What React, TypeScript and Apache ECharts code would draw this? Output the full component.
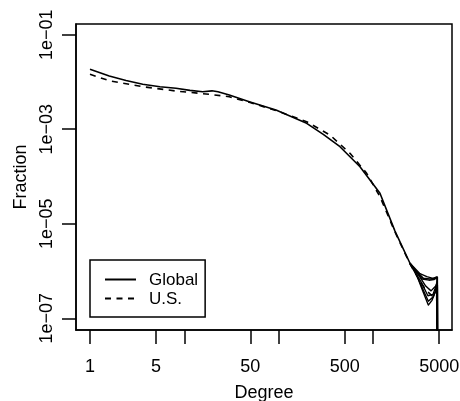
import React, { useEffect, useRef } from "react";
import * as echarts from "echarts";

// Degree distribution (log-log)
const globalDegree = [1, 1.6, 2.41, 3.62, 5.51, 8.15, 11.46, 15.63, 19.61, 22.69, 29.9, 48.7, 93.4, 197.5, 296, 445, 725, 925, 1180, 1702, 2454, 2890, 3400, 4000, 4500, 4780, 4831];
const globalFraction = [0.01854, 0.01337, 0.01074, 0.00893, 0.00794, 0.00735, 0.00666, 0.00622, 0.0065, 0.00619, 0.0053, 0.00383, 0.00255, 0.001335, 7.8e-4, 4.27e-4, 1.61e-4, 8.4e-5, 4.41e-5, 7.0e-6, 1.46e-6, 9.7e-7, 7.0e-7, 6.8e-7, 7.0e-7, 7.4e-7, 1e-9];

const usDegree = [1, 1.6, 3.62, 8.15, 18.36, 29.9, 48.7, 93.4, 197.5, 349, 568, 853, 1180, 1702, 2454, 3000, 3600, 4200, 4700, 4831];
const usFraction = [0.01453, 0.01064, 0.00794, 0.00644, 0.00548, 0.00488, 0.00371, 0.00249, 0.001444, 7.55e-4, 3.1e-4, 1.17e-4, 3.74e-5, 6.7e-6, 1.41e-6, 7e-7, 4e-7, 3e-7, 4.5e-7, 1e-9];

// extra runs forming the fan in the tail
const tailADegree = [2454, 3133, 3700, 4300, 4710, 4780, 4831];
const tailAFraction = [1.46e-6, 8.8e-7, 7.6e-7, 7.0e-7, 7.5e-7, 6.5e-7, 1e-9];
const tailBDegree = [2454, 3000, 3600, 4100, 4600, 4780, 4831];
const tailBFraction = [1.46e-6, 8.5e-7, 4.8e-7, 3.8e-7, 4.8e-7, 6.0e-7, 1e-9];
const tailCDegree = [2454, 2900, 3400, 3837, 4200, 4600, 4790, 4831];
const tailCFraction = [1.42e-6, 8e-7, 3.5e-7, 1.9e-7, 2.4e-7, 3.8e-7, 5e-7, 1e-9];
const tailDDegree = [2600, 3200, 3800, 4300, 4700, 4831];
const tailDFraction = [1.2e-6, 6e-7, 3e-7, 3.2e-7, 5.2e-7, 1e-9];
const tailEDegree = [2800, 3300, 3900, 4400, 4750, 4831];
const tailEFraction = [1.0e-6, 6.8e-7, 6.4e-7, 6.6e-7, 7.2e-7, 1e-9];
const tailFDegree = [2700, 3300, 3840, 4300, 4700, 4831];
const tailFFraction = [1.1e-6, 4.5e-7, 2.3e-7, 2.8e-7, 4.2e-7, 1e-9];

const xTickValues = [1, 5, 10, 50, 100, 500, 1000, 5000];
const xLabelValues = [1, 5, 50, 500, 5000];
const yTickValues = [1e-1, 1e-3, 1e-5, 1e-7];

const pair = (xs: number[], ys: number[]) => xs.map((x, i) => [x, ys[i]]);

const FONT = '"Liberation Sans", Arial, Helvetica, sans-serif';

export default function App() {
  const ref = useRef<HTMLDivElement>(null);
  useEffect(() => {
    if (!ref.current) return;
    const chart = echarts.init(ref.current, null, { renderer: "svg" });
    const axisLine = { show: true, lineStyle: { color: "#000", width: 1.5 } };
    const tickStyle = { color: "#000", width: 1.5 };
    const tailSeries = [
      ["run A", tailADegree, tailAFraction],
      ["run B", tailBDegree, tailBFraction],
      ["run C", tailCDegree, tailCFraction],
      ["run D", tailDDegree, tailDFraction],
      ["run E", tailEDegree, tailEFraction],
      ["run F", tailFDegree, tailFFraction],
    ].map(([name, xs, ys]) => ({
      type: "line",
      name: name as string,
      data: pair(xs as number[], ys as number[]),
      showSymbol: false,
      symbol: "none",
      itemStyle: { color: "#000" },
      lineStyle: { color: "#000", width: 1.4, type: "solid", join: "round" },
      silent: true,
    }));
    chart.setOption({
      animation: false,
      textStyle: { fontFamily: FONT, color: "#000" },
      grid: { left: 76, top: 24, right: 8, bottom: 71, show: true, borderColor: "#000", borderWidth: 1.5, containLabel: false, outerBoundsMode: "none" },
      legend: {
        data: ["Global", "U.S."],
        orient: "vertical",
        left: 90,
        top: 260,
        align: "left",
        itemWidth: 31,
        itemHeight: 14,
        itemGap: 2,
        padding: [11, 7, 10, 14],
        borderColor: "#000",
        borderWidth: 1.5,
        borderRadius: 0,
        selectedMode: false,
        itemStyle: { opacity: 0 },
        textStyle: { fontSize: 17, color: "#000", fontFamily: FONT, padding: [0, 0, 0, 8] },
      },
      xAxis: {
        type: "log",
        logBase: 10,
        min: 0.711,
        max: 6839,
        name: "Degree",
        nameLocation: "middle",
        nameGap: 53,
        nameTextStyle: { fontSize: 18, color: "#000", fontFamily: FONT },
        axisLine,
        axisTick: { show: true, inside: false, length: 14, customValues: xTickValues, lineStyle: tickStyle },
        axisLabel: {
          customValues: xLabelValues,
          margin: 27,
          fontSize: 18,
          color: "#000",
          fontFamily: FONT,
          formatter: (v: number) => String(Math.round(v)),
        },
        splitLine: { show: false },
        minorTick: { show: false },
      },
      yAxis: {
        type: "log",
        logBase: 10,
        min: 5.65e-8,
        max: 0.1687,
        name: "Fraction",
        nameLocation: "middle",
        nameGap: 47,
        nameTextStyle: { fontSize: 18, color: "#000", fontFamily: FONT },
        axisLine,
        axisTick: { show: true, inside: false, length: 14, customValues: yTickValues, lineStyle: tickStyle },
        axisLabel: {
          customValues: yTickValues,
          rotate: 90,
          margin: 21,
          fontSize: 18,
          color: "#000",
          fontFamily: FONT,
          formatter: (v: number) => "1e\u22120" + Math.round(-Math.log10(v)),
        },
        splitLine: { show: false },
        minorTick: { show: false },
      },
      series: [
        ...tailSeries,
        {
          type: "line",
          name: "U.S.",
          data: pair(usDegree, usFraction),
          showSymbol: false,
          symbol: "none",
          itemStyle: { color: "#000" },
          lineStyle: { color: "#000", width: 1.6, type: [6, 5.5], join: "round" },
        },
        {
          type: "line",
          name: "Global",
          data: pair(globalDegree, globalFraction),
          showSymbol: false,
          symbol: "none",
          itemStyle: { color: "#000" },
          lineStyle: { color: "#000", width: 1.6, type: "solid", join: "round" },
        },
      ],
    });
    return () => chart.dispose();
  }, []);
  return <div ref={ref} style={{ position: "fixed", left: 0, top: 0, width: 460, height: 401 }} />;
}
